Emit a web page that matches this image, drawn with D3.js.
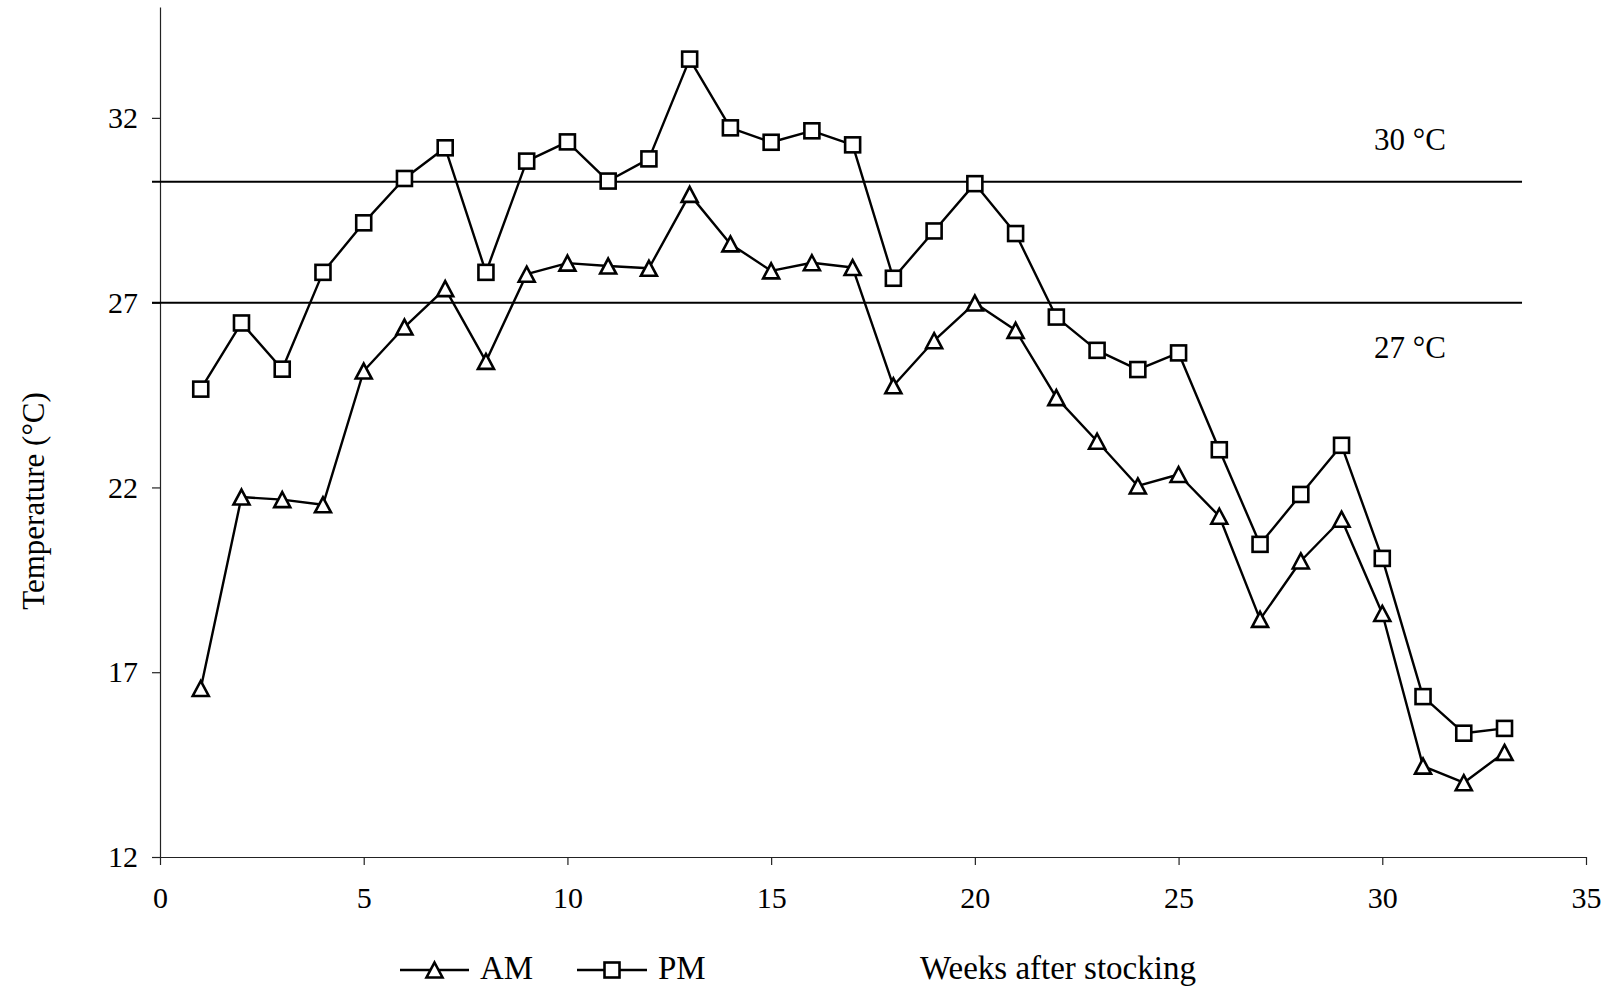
<!DOCTYPE html>
<html>
<head>
<meta charset="utf-8">
<script src="https://cdn.jsdelivr.net/npm/d3@7"></script>
<style>
  html, body { margin: 0; padding: 0; background: #fff; }
  svg { display: block; }
  text { font-family: "Liberation Serif", "Times New Roman", serif; fill: #000; }
</style>
</head>
<body>
<svg id="chart" width="1616" height="987"></svg>
<script>
// ---- data ----
const weeks = [1,2,3,4,5,6,7,8,9,10,11,12,13,14,15,16,17,18,19,20,21,22,23,24,25,26,27,28,29,30,31,32,33];
const amValues = [16.56,21.74,21.67,21.53,25.15,26.34,27.38,25.41,27.77,28.07,27.99,27.93,29.93,28.59,27.86,28.08,27.95,
                  24.75,25.97,26.99,26.25,24.43,23.25,22.04,22.35,21.22,18.43,20.01,21.14,18.59,14.46,14.01,14.83];
const pmValues = [24.66,26.45,25.20,27.82,29.16,30.36,31.19,27.82,30.83,31.35,30.29,30.89,33.59,31.73,31.34,31.65,31.27,
                  27.66,28.94,30.22,28.87,26.61,25.71,25.19,25.64,23.02,20.46,21.81,23.14,20.08,16.34,15.35,15.48];
const seriesNames = ["AM", "PM"];
const yTicks = [12, 17, 22, 27, 32];
const xTicks = [0, 5, 10, 15, 20, 25, 30, 35];
const refValues = [30.27, 27];
const refLabels = ["30 °C", "27 °C"];
const refEnd = 33.43;
const refLabelX = 30.68;
const xTitle = "Weeks after stocking";
const yTitle = "Temperature (°C)";

// ---- layout ----
const W = 1616, H = 987;
const margin = {left: 160, top: 7, right: 30, bottom: 130};
const svg = d3.select("#chart");
const x = d3.scaleLinear().domain([0, 35]).range([margin.left, W - margin.right]);
const y = d3.scaleLinear().domain([12, 35]).range([H - margin.bottom, margin.top]);

// axes
const xAxis = svg.append("g").attr("transform", `translate(0,${H - margin.bottom})`)
  .call(d3.axisBottom(x).tickValues(xTicks).tickSize(8).tickPadding(14).tickSizeOuter(0));
const yAxis = svg.append("g").attr("transform", `translate(${margin.left},0)`)
  .call(d3.axisLeft(y).tickValues(yTicks).tickSize(8).tickPadding(14).tickSizeOuter(0));
[xAxis, yAxis].forEach(g => {
  g.select(".domain").attr("stroke", "#222").attr("stroke-width", 1.2);
  g.selectAll(".tick line").attr("stroke", "#222").attr("stroke-width", 1.2);
  g.selectAll(".tick text").style("font-family", '"Liberation Serif", serif').style("font-size", "30px").attr("fill", "#000");
});
xAxis.selectAll(".tick text").attr("dy", "0.95em");

// reference lines
refValues.forEach((v, i) => {
  svg.append("line")
    .attr("x1", x(0) - 8).attr("x2", x(refEnd))
    .attr("y1", y(v)).attr("y2", y(v))
    .attr("stroke", "#000").attr("stroke-width", 2);
  svg.append("text")
    .attr("x", x(refLabelX))
    .attr("y", i === 0 ? y(v) - 32 : y(v) + 55)
    .attr("text-anchor", "middle")
    .style("font-size", "31px")
    .text(refLabels[i]);
});

// series
const line = d3.line().x((d, i) => x(weeks[i])).y(d => y(d));
const seriesData = [amValues, pmValues];
seriesData.forEach(vals => {
  svg.append("path").datum(vals)
    .attr("d", line)
    .attr("fill", "none").attr("stroke", "#000").attr("stroke-width", 2.4)
    .attr("stroke-linejoin", "round");
});

function triPath(cx, cy, w, h) {
  return `M${cx},${cy - h/2}L${cx + w/2},${cy + h/2}L${cx - w/2},${cy + h/2}Z`;
}
function drawTri(sel, cx, cy) {
  sel.append("path").attr("d", triPath(cx, cy, 16, 15))
    .attr("fill", "#fff").attr("stroke", "#000").attr("stroke-width", 2.6)
    .attr("stroke-linejoin", "miter");
}
function drawSq(sel, cx, cy) {
  sel.append("rect").attr("x", cx - 7.5).attr("y", cy - 7.5)
    .attr("width", 15).attr("height", 15)
    .attr("fill", "#fff").attr("stroke", "#000").attr("stroke-width", 2.6);
}
const gAM = svg.append("g");
amValues.forEach((v, i) => drawTri(gAM, x(weeks[i]), y(v)));
const gPM = svg.append("g");
pmValues.forEach((v, i) => drawSq(gPM, x(weeks[i]), y(v)));

// titles
svg.append("text")
  .attr("x", 920).attr("y", 979)
  .style("font-size", "33px")
  .text(xTitle);
svg.append("text")
  .attr("transform", `translate(44,501) rotate(-90)`)
  .attr("text-anchor", "middle")
  .style("font-size", "31px")
  .text(yTitle);

// legend
const legY = 970;
const leg = svg.append("g");
const legItems = [{x1: 400, x2: 469, name: seriesNames[0], tx: 480, marker: drawTri},
                  {x1: 577, x2: 647, name: seriesNames[1], tx: 658, marker: drawSq}];
legItems.forEach(it => {
  leg.append("line").attr("x1", it.x1).attr("x2", it.x2).attr("y1", legY).attr("y2", legY)
    .attr("stroke", "#000").attr("stroke-width", 2.4);
  it.marker(leg, (it.x1 + it.x2) / 2, legY);
  leg.append("text").attr("x", it.tx).attr("y", 979).style("font-size", "33px").text(it.name);
});
</script>
</body>
</html>
